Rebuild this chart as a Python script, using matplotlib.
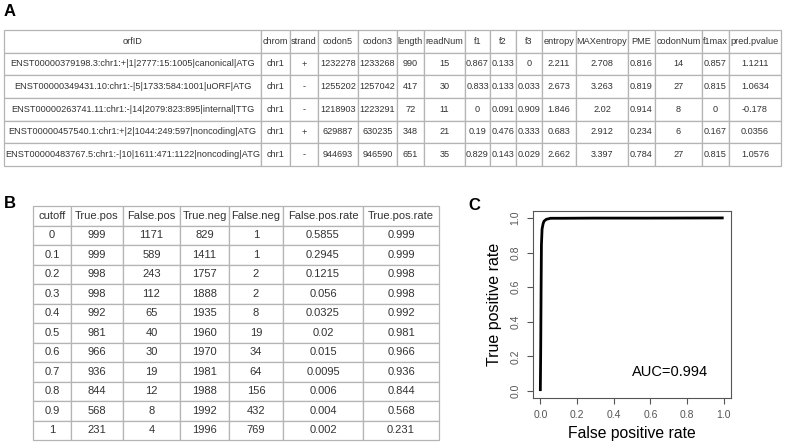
import matplotlib
matplotlib.use('Agg')
import matplotlib.pyplot as plt

plt.rcParams['font.family'] = ['Liberation Sans', 'DejaVu Sans']

# Table A data
orf_cols = ['orfID', 'chrom', 'strand', 'codon5', 'codon3', 'length', 'readNum',
            'f1', 'f2', 'f3', 'entropy', 'MAXentropy', 'PME', 'codonNum', 'f1max',
            'pred.pvalue']
orf_ids = ['ENST00000379198.3:chr1:+|1|2777:15:1005|canonical|ATG',
           'ENST00000349431.10:chr1:-|5|1733:584:1001|uORF|ATG',
           'ENST00000263741.11:chr1:-|14|2079:823:895|internal|TTG',
           'ENST00000457540.1:chr1:+|2|1044:249:597|noncoding|ATG',
           'ENST00000483767.5:chr1:-|10|1611:471:1122|noncoding|ATG']
chrom = ['chr1', 'chr1', 'chr1', 'chr1', 'chr1']
strand = ['+', '-', '-', '+', '-']
codon5 = [1232278, 1255202, 1218903, 629887, 944693]
codon3 = [1233268, 1257042, 1223291, 630235, 946590]
length = [990, 417, 72, 348, 651]
read_num = [15, 30, 11, 21, 35]
f1 = ['0.867', '0.833', '0', '0.19', '0.829']
f2 = ['0.133', '0.133', '0.091', '0.476', '0.143']
f3 = ['0', '0.033', '0.909', '0.333', '0.029']
entropy = ['2.211', '2.673', '1.846', '0.683', '2.662']
max_entropy = ['2.708', '3.263', '2.02', '2.912', '3.397']
pme = ['0.816', '0.819', '0.914', '0.234', '0.784']
codon_num = [14, 27, 8, 6, 27]
f1max = ['0.857', '0.815', '0', '0.167', '0.815']
pred_pvalue = ['1.1211', '1.0634', '-0.178', '0.0356', '1.0576']

# Table B data
roc_cols = ['cutoff', 'True.pos', 'False.pos', 'True.neg', 'False.neg',
            'False.pos.rate', 'True.pos.rate']
cutoff = ['0', '0.1', '0.2', '0.3', '0.4', '0.5', '0.6', '0.7', '0.8', '0.9', '1']
true_pos = [999, 999, 998, 998, 992, 981, 966, 936, 844, 568, 231]
false_pos = [1171, 589, 243, 112, 65, 40, 30, 19, 12, 8, 4]
true_neg = [829, 1411, 1757, 1888, 1935, 1960, 1970, 1981, 1988, 1992, 1996]
false_neg = [1, 1, 2, 2, 8, 19, 34, 64, 156, 432, 769]
fp_rate = [0.5855, 0.2945, 0.1215, 0.056, 0.0325, 0.02, 0.015, 0.0095, 0.006, 0.004, 0.002]
tp_rate = [0.999, 0.999, 0.998, 0.998, 0.992, 0.981, 0.966, 0.936, 0.844, 0.568, 0.231]
auc = 0.994

W, H = 785, 446
fig = plt.figure(figsize=(W / 100, H / 100), dpi=100)


def px_axes(left, top, right, bottom):
    return fig.add_axes([left / W, 1 - bottom / H, (right - left) / W, (bottom - top) / H])


def style_table(tab, size):
    tab.auto_set_font_size(False)
    tab.set_fontsize(size)
    for cell in tab.get_celld().values():
        cell.set_edgecolor('#b4b4b4')
        cell.set_linewidth(0.9)
        cell.get_text().set_color('#333333')


# A: ORF table
axA = px_axes(4, 30, 781, 166)
axA.axis('off')
rows_a = [[orf_ids[i], chrom[i], strand[i], codon5[i], codon3[i], length[i], read_num[i],
           f1[i], f2[i], f3[i], entropy[i], max_entropy[i], pme[i], codon_num[i],
           f1max[i], pred_pvalue[i]] for i in range(len(orf_ids))]
edges_a = [4, 261, 290, 318, 358, 397, 424, 465, 490, 516, 542, 576, 628, 655, 702, 729, 781]
widths_a = [edges_a[i + 1] - edges_a[i] for i in range(len(edges_a) - 1)]
tabA = axA.table(cellText=rows_a, colLabels=orf_cols, colWidths=widths_a,
                 cellLoc='center', bbox=[0, 0, 1, 1])
style_table(tabA, 6.6)
fig.text(4 / W, 1 - 12 / H, 'A', fontsize=12, fontweight='bold', va='center')

# B: cutoff table
axB = px_axes(33, 206, 439, 440)
axB.axis('off')
rows_b = [[cutoff[i], true_pos[i], false_pos[i], true_neg[i], false_neg[i],
           fp_rate[i], tp_rate[i]] for i in range(len(cutoff))]
edges_b = [33, 71, 123, 180, 229, 283, 363, 439]
widths_b = [edges_b[i + 1] - edges_b[i] for i in range(len(edges_b) - 1)]
tabB = axB.table(cellText=rows_b, colLabels=roc_cols, colWidths=widths_b,
                 cellLoc='center', bbox=[0, 0, 1, 1])
style_table(tabB, 8)
fig.text(4 / W, 1 - 203 / H, 'B', fontsize=12, fontweight='bold', va='center')

# C: ROC curve
axC = px_axes(533, 211, 731, 398)
fpr = [0] + fp_rate[::-1] + [1]
tpr = [0] + tp_rate[::-1] + [1]
axC.plot(fpr, tpr, color='black', lw=2.0, solid_capstyle='butt')
axC.set_xlim(-0.04, 1.04)
axC.set_ylim(-0.04, 1.04)
ticks = [0, 0.2, 0.4, 0.6, 0.8, 1.0]
axC.set_xticks(ticks)
axC.set_yticks(ticks)
axC.set_xticklabels(['%.1f' % t for t in ticks])
axC.set_yticklabels(['%.1f' % t for t in ticks], rotation=90, va='center')
axC.tick_params(labelsize=7.5, colors='#555555', length=4, width=0.8, pad=5)
for sp in axC.spines.values():
    sp.set_color('#555555')
    sp.set_linewidth(0.8)
axC.set_xlabel('False positive rate', fontsize=11.3, labelpad=4)
axC.set_ylabel('True positive rate', fontsize=11.5, labelpad=6)
axC.text(0.5, 0.139, 'AUC=%.3f' % auc, fontsize=10.5, ha='left', va='center',
         transform=axC.transAxes)
fig.text(468 / W, 1 - 206 / H, 'C', fontsize=12, fontweight='bold', va='center')

fig.savefig('out.png', dpi=100)
